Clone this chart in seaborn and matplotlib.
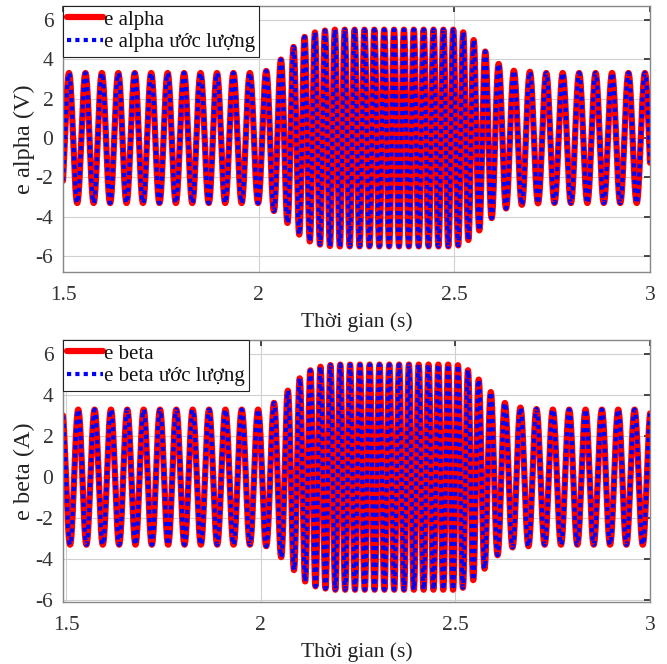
# Sức điện động e alpha / e beta và giá trị ước lượng
import matplotlib
matplotlib.use("Agg")
import matplotlib.pyplot as plt
import numpy as np
import pandas as pd
import seaborn as sns

# Số liệu: đường bao biên độ theo thời gian
t_knots = [1.5, 2.0, 2.019, 2.058, 2.088, 2.114, 2.142, 2.168, 2.19,
           2.50, 2.520, 2.548, 2.575, 2.609, 2.648, 2.689, 2.72, 3.0]
amp_knots = [3.3, 3.3, 3.4, 4.0, 4.6, 5.1, 5.35, 5.45, 5.5,
             5.5, 5.4, 5.0, 4.47, 3.8, 3.42, 3.37, 3.3, 3.3]
f_base = 23.8          # Hz khi biên độ 3.3
t_peak_alpha = 1.5153  # đỉnh đầu tiên của e alpha
phase_beta = 2.3       # độ trễ pha e beta (rad)

yticks = [-6, -4, -2, 0, 2, 4, 6]
xticks = [1.5, 2, 2.5, 3]

# tạo tín hiệu
dt = 1e-4
t = np.arange(1.49, 3.0 + dt, dt)
amp = np.interp(t, t_knots, amp_knots)
freq = amp * f_base / 3.3
theta = 2 * np.pi * np.cumsum(freq) * dt
theta = theta - np.interp(t_peak_alpha, t, theta)
df = pd.DataFrame({
    "t": t,
    "alpha": amp * np.cos(theta),
    "beta": amp * np.cos(theta - phase_beta),
})

sns.set_theme(style="whitegrid")
plt.rcParams["font.family"] = ["Liberation Serif", "DejaVu Serif"]
plt.rcParams["axes.unicode_minus"] = False

fig = plt.figure(figsize=(6.67, 6.64), dpi=100)
ax1 = fig.add_axes([63 / 667, 1 - 272 / 664, 587 / 667, 266 / 664])
ax2 = fig.add_axes([63 / 667, 1 - 602 / 664, 587 / 667, 262 / 664])

panels = [
    (ax1, "alpha", "e alpha", "e alpha (V)", (1.5, 3.0), (-6.8, 6.7)),
    (ax2, "beta", "e beta", "e beta (A)", (1.4915, 3.0), (-6.1, 6.7)),
]
for ax, col, name, ylab, xl, yl in panels:
    sns.lineplot(data=df, x="t", y=col, ax=ax, color="#ff0000", lw=4.5,
                 label=name)
    sns.lineplot(data=df, x="t", y=col, ax=ax, color="#0000ff", lw=3,
                 linestyle=(0, (1, 1)), label=name + " ước lượng")
    ax.set_xlim(*xl)
    ax.set_ylim(*yl)
    ax.set_xticks(xticks)
    ax.set_xticklabels(["1.5", "2", "2.5", "3"])
    ax.set_yticks(yticks)
    ax.set_xlabel("Thời gian (s)", fontsize=15.5, color="#222222", labelpad=5)
    ax.set_ylabel(ylab, fontsize=17.5, color="#222222", labelpad=0)
    ax.tick_params(labelsize=15.5, colors="#333333", direction="in",
                   length=4, top=True, right=True)
    ax.tick_params(axis="x", pad=10)
    ax.tick_params(axis="y", pad=7)
    ax.grid(True, color="#d0d0d0", lw=0.8)
    for s in ax.spines.values():
        s.set_color("#888888")
        s.set_linewidth(1.0)
    leg = ax.legend(loc="upper left", fontsize=15, frameon=True,
                    fancybox=False, framealpha=1, edgecolor="#222222",
                    borderaxespad=0, handlelength=1.7, handletextpad=0.05,
                    borderpad=0.2, labelspacing=0.15)
    leg.get_frame().set_linewidth(0.8)
    for txt in leg.get_texts():
        txt.set_color("#111111")

fig.savefig("out.png", dpi=100)
